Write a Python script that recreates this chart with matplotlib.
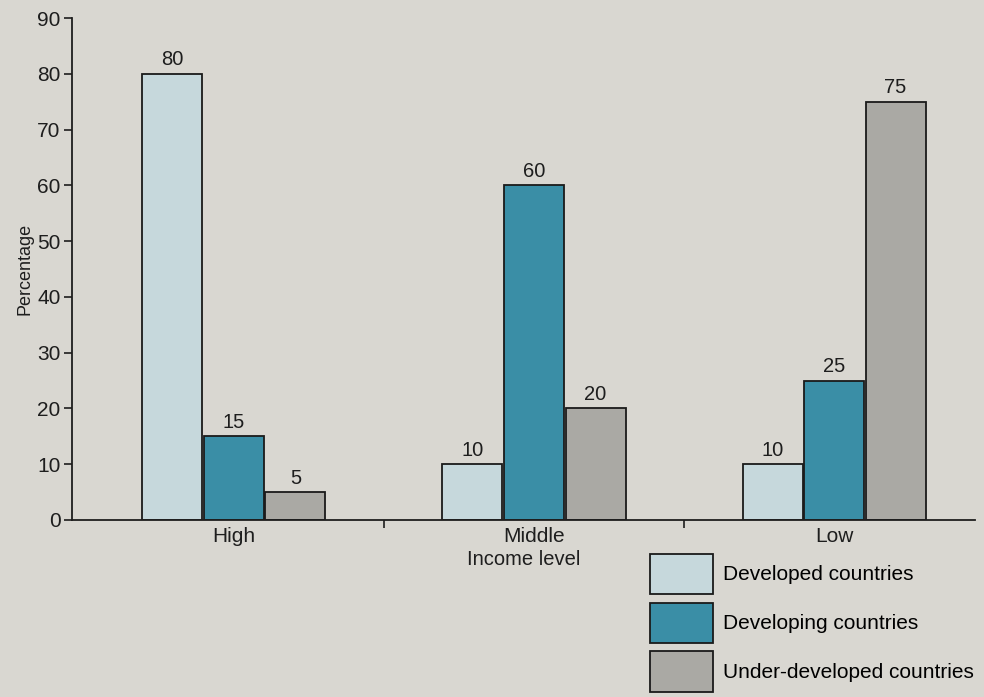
import matplotlib.pyplot as plt
import numpy as np
from matplotlib.patches import Patch

# data
income_levels = ['High', 'Middle', 'Low']
developed = [80, 10, 10]
developing = [15, 60, 25]
under_developed = [5, 20, 75]
series_names = ['Developed countries', 'Developing countries', 'Under-developed countries']

colours = ['#c6d8dc', '#3a8ea6', '#aaa9a4']
page = '#d9d7d1'

plt.rcParams['font.family'] = ['Liberation Sans', 'DejaVu Sans']

fig = plt.figure(figsize=(9.84, 6.97), dpi=100, facecolor=page)
ax = fig.add_axes([0.073, 0.254, 0.918, 0.72], facecolor=page)

x = np.arange(len(income_levels))
w = 0.2
gap = 0.005
for i, vals in enumerate([developed, developing, under_developed]):
    pos = x + (i - 1) * (w + gap)
    bars = ax.bar(pos, vals, width=w, color=colours[i], edgecolor='#1a1a1a',
                  linewidth=1.3, label=series_names[i])
    for b, v in zip(bars, vals):
        ax.text(b.get_x() + b.get_width() / 2, v + 0.8, str(v), ha='center',
                va='bottom', fontsize=14.5, color='#1e1e1e')

ax.set_ylim(0, 90)
ax.set_xlim(-0.54, 2.47)
ax.set_yticks(range(0, 91, 10))
ax.set_xticks(x)
ax.set_xticklabels(income_levels)
ax.set_xticks([0.5, 1.5], minor=True)
ax.tick_params(axis='x', which='major', length=0, pad=5, labelsize=15, colors='#1e1e1e')
ax.tick_params(axis='x', which='minor', length=6, width=1.2, color='#1e1e1e')
ax.tick_params(axis='y', length=6, width=1.2, pad=2, labelsize=15, colors='#1e1e1e')

for s in ['top', 'right']:
    ax.spines[s].set_visible(False)
for s in ['left', 'bottom']:
    ax.spines[s].set_linewidth(1.3)
    ax.spines[s].set_color('#1e1e1e')

ax.set_ylabel('Percentage', fontsize=13, color='#1e1e1e', labelpad=3)
ax.set_xlabel('Income level', fontsize=14.5, color='#1e1e1e', labelpad=3)

handles = [Patch(facecolor=c, edgecolor='#1a1a1a', linewidth=1.3) for c in colours]
fig.legend(handles, series_names, loc='upper left',
           bbox_to_anchor=(650 / 984, 1 - 554 / 697), frameon=False,
           fontsize=15, handlelength=3.0, handleheight=2.6,
           labelspacing=0.4, handletextpad=0.5, borderaxespad=0, borderpad=0)

fig.savefig('out.png', dpi=100, facecolor=page)
